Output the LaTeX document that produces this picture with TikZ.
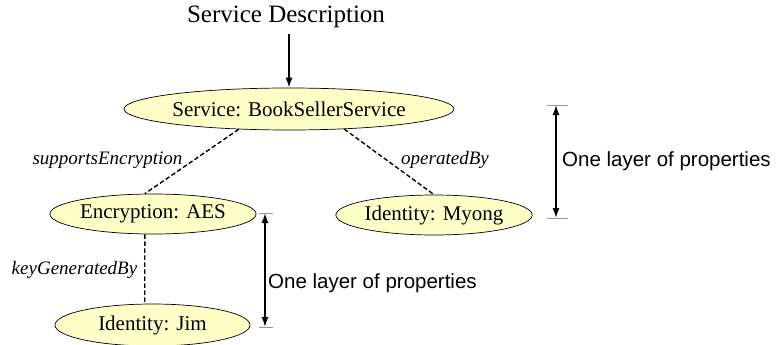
\documentclass[tikz,border=0pt]{standalone}
\usepackage{fontspec}
\setmainfont{Liberation Serif}
\setsansfont{Liberation Sans}
\usetikzlibrary{shapes.geometric,arrows.meta}
\definecolor{conceptfill}{RGB}{255,255,200}
\definecolor{tickgray}{RGB}{150,150,150}
\tikzset{
  concept/.style={ellipse, draw=black, line width=0.7pt, fill=conceptfill,
    inner sep=0pt, font=\fontsize{21}{24}\selectfont},
  relation/.style={dashed, dash pattern=on 4.5pt off 2.5pt, line width=1.4pt},
  relname/.style={font=\fontsize{19}{22}\selectfont\itshape, inner sep=0pt},
  pointer/.style={line width=1.6pt, -{Latex[length=10pt,width=7pt]}},
  span/.style={line width=1.6pt, {Latex[length=10pt,width=7pt]}-{Latex[length=10pt,width=7pt]}},
  spantick/.style={line width=1pt, draw=tickgray},
  spanlabel/.style={font=\sffamily\fontsize{20.5}{24}\selectfont, inner sep=0pt, anchor=west}
}
\begin{document}
\begin{tikzpicture}[x=1pt,y=-1pt]
\useasboundingbox (0,0) rectangle (781,345);

% title and entry arrow
\node[font=\fontsize{25}{28}\selectfont, inner sep=0pt] (title) at (286,17) {Service Description};

% concepts
\node[concept, minimum width=276pt, minimum height=42pt] (svc) at (289,109) {Service: BookSellerService};
\node[concept, minimum width=200pt, minimum height=40pt] (enc) at (153,214) {Encryption: AES};
\node[concept, minimum width=182pt, minimum height=40pt] (myong) at (434,215) {Identity: Myong};
\node[concept, minimum width=195pt, minimum height=42pt] (jim) at (152.5,325) {Identity: Jim};

\path (title.south -| svc.north) ++(0,6) coordinate (tstart);
\draw[pointer] (tstart) -- (svc.north);

% properties
\draw[relation] (svc.202) -- (enc.112);
\draw[relation] (svc.340) -- (myong.north);
\draw[relation] (enc.248) -- (jim.110);

\node[relname] (l1) at (107.5,160) {supportsEncryption};
\node[relname] (l2) at (445,160) {operatedBy};
\node[relname] (l3) at (74.5,270) {keyGeneratedBy};

% layer spans
\coordinate (rt) at (556,105);
\coordinate (rb) at (556,218);
\draw[spantick] (547,105) -- (568,105);
\draw[spantick] (547,218) -- (568,218);
\draw[span] (rt) -- (rb);
\node[spanlabel] (rl) at (562,161) {One layer of properties};

\coordinate (lt) at (265,213);
\coordinate (lb) at (265,327);
\draw[spantick] (259,213) -- (273,213);
\draw[spantick] (259,327) -- (273,327);
\draw[span] (lt) -- (lb);
\node[spanlabel] (ll) at (268,283) {One layer of properties};
\end{tikzpicture}
\end{document}
